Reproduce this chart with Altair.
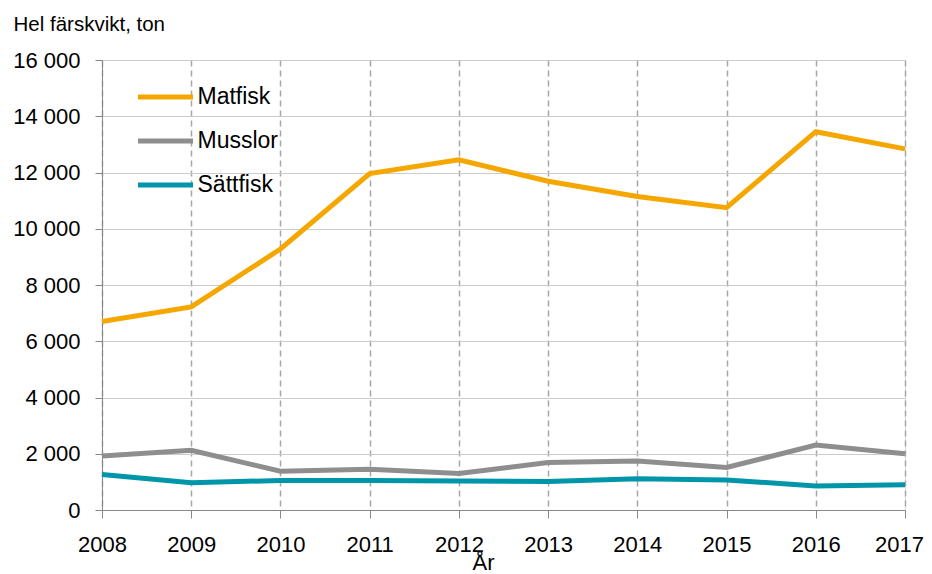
import altair as alt
import pandas as pd

years = [2008, 2009, 2010, 2011, 2012, 2013, 2014, 2015, 2016, 2017]
matfisk = [6700, 7220, 9280, 11960, 12450, 11690, 11150, 10750, 13450, 12840]
musslor = [1920, 2120, 1380, 1450, 1300, 1690, 1740, 1510, 2310, 2000]
sattfisk = [1260, 970, 1050, 1050, 1030, 1010, 1110, 1070, 850, 900]
series = ["Matfisk", "Musslor", "Sättfisk"]
colors = ["#F5A700", "#8E8E8E", "#0096AA"]
y_ticks = [0, 2000, 4000, 6000, 8000, 10000, 12000, 14000, 16000]

rows = []
for name, vals in zip(series, [matfisk, musslor, sattfisk]):
    for yr, v in zip(years, vals):
        rows.append({"År": yr, "Serie": name, "Värde": v})
df = pd.DataFrame(rows)

FONT = "Liberation Sans"

chart = alt.Chart(df).mark_line(strokeWidth=5, strokeJoin="miter").encode(
    x=alt.X(
        "År:Q",
        scale=alt.Scale(domain=[2008, 2017], nice=False, zero=False),
        axis=alt.Axis(
            values=years, format="d", title="År",
            grid=True, gridDash=[6, 4], gridColor="#a6a6a6", gridWidth=1.5,
            tickSize=8, labelPadding=16, labelFontSize=22,
            labelFlush=False, labelOverlap=False, labelBound=False,
            labelOffset={"condition": {"test": "datum.value == 2017", "value": -6}, "value": 0},
            titleX=381, titleY=59, titleAlign="center", titleBaseline="alphabetic",
            titleFontSize=22, titleFontWeight="normal",
        ),
    ),
    y=alt.Y(
        "Värde:Q",
        scale=alt.Scale(domain=[0, 16000], nice=False),
        axis=alt.Axis(
            values=y_ticks,
            labelExpr="replace(format(datum.value, ','), ',', ' ')",
            title="Hel färskvikt, ton",
            grid=True, gridColor="#cccccc", gridWidth=1,
            tickSize=7, labelPadding=15, labelFontSize=22,
            labelFlush=False, labelOverlap=False,
            titleAngle=0, titleAlign="left", titleBaseline="alphabetic",
            titleX=-89, titleY=-30, titleFontSize=20.5, titleFontWeight="normal",
        ),
    ),
    color=alt.Color(
        "Serie:N",
        scale=alt.Scale(domain=series, range=colors),
        legend=alt.Legend(
            orient="none", legendX=33.5, legendY=15, title=None,
            symbolType="stroke", symbolSize=3025, symbolStrokeWidth=5,
            clipHeight=44, rowPadding=0, padding=0,
            labelFontSize=23, labelFont=FONT, labelColor="black", labelOffset=2,
        ),
    ),
).properties(
    width=803,
    height=450,
    autosize=alt.AutoSizeParams(type="none"),
    padding={"left": 94, "top": 52, "right": 19, "bottom": 64},
).configure_view(
    stroke="#8c8c8c", strokeWidth=2
).configure_axis(
    domainColor="#8c8c8c", domainWidth=2, tickColor="#8c8c8c", tickWidth=1.5,
    labelFont=FONT, titleFont=FONT, labelColor="black", titleColor="black",
).configure(background="white")

chart.save("out.html", embed_options={"renderer": "svg", "actions": False})
